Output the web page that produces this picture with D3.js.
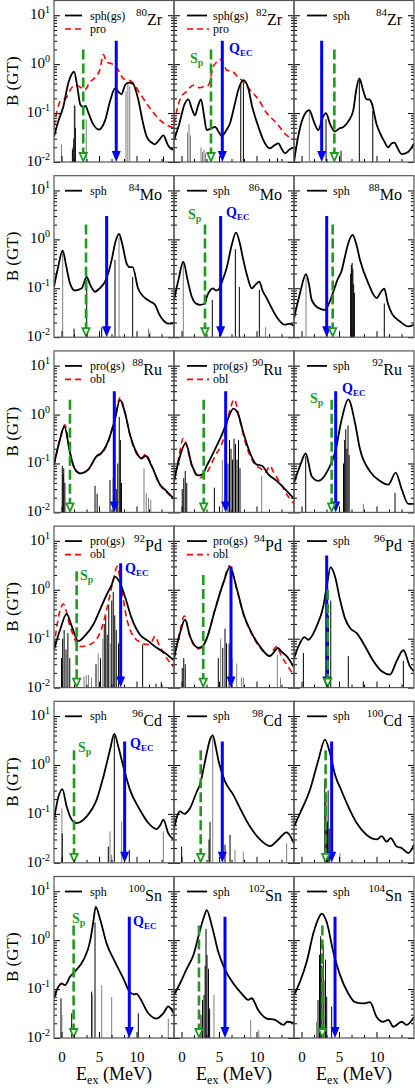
<!DOCTYPE html>
<html><head><meta charset="utf-8">
<script src="https://cdn.jsdelivr.net/npm/d3@7/dist/d3.min.js"></script>
<style>
html,body{margin:0;padding:0;background:#fff;}
svg{display:block;}
text{font-family:"Liberation Serif","Times New Roman",serif;}
</style></head><body>
<script>
// ================= DATA (E in MeV, B in GT) =================
const nucleusMass   = ["80","82","84","84","86","88","88","90","92","92","94","96","96","98","100","100","102","104"];
const nucleusSymbol = ["Zr","Zr","Zr","Mo","Mo","Mo","Ru","Ru","Ru","Pd","Pd","Pd","Cd","Cd","Cd","Sn","Sn","Sn"];
const legendMain = ["sph(gs)","sph(gs)","sph","sph","sph","sph","pro(gs)","pro(gs)","sph","pro(gs)","pro(gs)","sph","sph","sph","sph","sph","sph","sph"];
const legendAlt  = ["pro","pro",null,null,null,null,"obl","obl",null,"obl","obl",null,null,null,null,null,null,null];
const spEnergy   = [2.9,3.93,4.38, 3.27,3.13,4.16, 1.13,2.96,4.02, 2.02,2.9,3.49, 1.67,2.56,3.22, 1.62,2.33,2.78];
const qecEnergy  = [7.3,5.44,2.69, 6.02,5.22,3.36, 7.04,5.89,4.56, 7.89,6.6,3.36, 8.42,5.44,4.02, 9.04,5.8,4.47];
const spTop      = [2,2,2, 2,2,2, 2,2,2, 2.4,2,1, 2,2,2, 2,2,2];
const qecTop     = [3,3,3, 3,3,3, 3,3,3, 3.5,3,5, 3,3,3, 3,3,3];
const yTickValues = [0.01,0.1,1,10];
const yTickExp    = ["-2","-1","0","1"];
const xTickValues = [0,5,10];

const zr80Sph = [[-1,0.033],[-0.4,0.07],[0.24,0.135],[0.91,0.41],[1.67,0.70],[2.1,0.35],[2.5,0.15],[2.9,0.13],[3.2,0.14],[3.6,0.1],[4.2,0.06],[5.0,0.046],[5.8,0.07],[6.5,0.18],[7.13,0.32],[7.6,0.27],[8.0,0.245],[8.5,0.38],[8.9,0.42],[9.5,0.40],[10.2,0.2],[10.8,0.07],[11.36,0.033],[12.0,0.025],[12.47,0.023],[13.0,0.028],[13.58,0.035],[14.2,0.022],[14.9,0.018],[15,0.018]];
const zr80Pro = [[-1,0.053],[-0.2,0.17],[0.69,0.21],[1.36,0.33],[2.0,0.37],[2.6,0.33],[3.13,0.30],[3.8,0.44],[4.24,0.49],[5.13,0.79],[5.58,1.58],[6.02,1.1],[6.69,1.02],[7.36,0.85],[8.24,0.51],[9.36,0.44],[10.47,0.25],[11.8,0.126],[13.13,0.072],[14.47,0.053],[15,0.05]];
const zr80Sticks = [[0.0,0.023,1],[1.45,0.018,0],[1.55,0.02,0],[1.62,0.03,0],[1.7,0.15,1],[1.78,0.14,0],[1.85,0.05,0],[3.3,0.075,1],[8.6,0.28,1],[8.85,0.4,1],[9.1,0.35,1],[13.6,0.013,0]];

const zr82Sph = [[-1,0.028],[-0.3,0.06],[0.4,0.15],[0.91,0.19],[1.4,0.12],[1.8,0.09],[2.2,0.14],[2.6,0.19],[3.0,0.09],[3.36,0.045],[3.9,0.048],[4.47,0.052],[5.0,0.04],[5.36,0.034],[6.0,0.045],[6.47,0.062],[7.0,0.13],[7.58,0.3],[8.24,0.47],[8.91,0.32],[9.4,0.14],[9.8,0.085],[10.4,0.045],[10.91,0.028],[11.8,0.019],[12.4,0.022],[12.91,0.024],[13.4,0.018],[13.8,0.015],[14.4,0.018],[15,0.02]];
const zr82Pro = [[-1,0.06],[-0.2,0.19],[0.69,0.28],[1.58,0.37],[2.47,0.33],[3.0,0.35],[3.58,0.37],[4.24,0.9],[4.7,1.1],[5.13,1.26],[5.6,1.0],[6.02,0.76],[6.91,0.69],[7.5,0.55],[8.02,0.47],[9.13,0.3],[10.24,0.19],[11.36,0.1],[12.69,0.062],[14.02,0.035],[15,0.03]];
const zr82Sticks = [[0.8,0.04,1],[1.0,0.06,1],[1.2,0.035,1],[2.6,0.02,1],[2.8,0.016,1],[3.0,0.018,1],[3.2,0.015,1],[7.9,0.42,0],[8.25,0.44,0],[12.8,0.012,0]];

const zr84Sph = [[-1,0.01],[-0.5,0.03],[0.2,0.08],[1.05,0.115],[1.6,0.07],[2.25,0.045],[2.8,0.08],[3.27,0.1],[3.8,0.06],[4.47,0.042],[5.0,0.048],[5.58,0.052],[6.3,0.07],[6.91,0.115],[7.3,0.3],[7.71,0.51],[8.2,0.3],[8.7,0.19],[9.0,0.19],[9.36,0.16],[10.0,0.06],[10.47,0.039],[11.0,0.027],[11.58,0.02],[12.0,0.024],[12.38,0.025],[12.9,0.018],[13.36,0.0145],[14.2,0.016],[15,0.024]];
const zr84Sticks = [[1.05,0.11,1],[3.27,0.075,0],[5.27,0.017,0],[7.71,0.48,0],[9.5,0.11,0]];

const mo84Sph = [[-1,0.107],[-0.5,0.25],[0.16,0.59],[0.6,0.3],[1.13,0.126],[1.8,0.09],[2.69,0.1],[3.36,0.17],[3.8,0.12],[4.47,0.085],[5.1,0.1],[5.8,0.137],[6.3,0.22],[6.69,0.38],[7.2,0.9],[7.67,1.3],[8.1,0.8],[8.69,0.32],[9.1,0.27],[9.49,0.27],[10.2,0.1],[10.91,0.068],[11.7,0.055],[12.47,0.046],[13.0,0.03],[13.58,0.022],[14.2,0.019],[15,0.0195]];
const mo84Sticks = [[0.16,0.55,1],[1.67,0.015,0],[3.36,0.15,0],[5.36,0.016,0],[7.13,0.38,0],[7.67,1.1,1],[9.49,0.17,0],[11.6,0.015,1],[11.8,0.013,1]];

const mo86Sph = [[-1,0.058],[-0.4,0.15],[0.24,0.35],[0.8,0.15],[1.36,0.068],[2.0,0.048],[2.47,0.046],[3.13,0.049],[3.36,0.066],[3.8,0.09],[4.16,0.1],[4.6,0.09],[4.91,0.093],[5.5,0.15],[6.02,0.26],[6.69,0.76],[7.27,1.37],[7.8,0.8],[8.24,0.38],[8.8,0.17],[9.36,0.1],[9.9,0.12],[10.38,0.137],[10.8,0.09],[11.36,0.063],[12.0,0.04],[12.69,0.026],[13.8,0.018],[14.4,0.019],[15,0.017]];
const mo86Sticks = [[0.24,0.35,1],[4.11,0.058,0],[7.18,0.63,0],[7.71,0.107,0],[10.38,0.093,0],[11.22,0.016,1]];

const mo88Sph = [[-1,0.024],[-0.2,0.079],[0.6,0.195],[1.0,0.12],[1.36,0.058],[2.2,0.04],[3.13,0.036],[3.7,0.05],[4.24,0.085],[4.8,0.15],[5.36,0.23],[5.8,0.45],[6.24,0.83],[6.82,1.23],[7.3,0.8],[7.8,0.38],[8.91,0.126],[10.02,0.063],[10.6,0.085],[11.04,0.098],[11.5,0.05],[12.02,0.031],[13.13,0.021],[14.24,0.0166],[15,0.018]];
const mo88Sticks = [[0.6,0.17,1],[6.55,0.2,0],[6.65,0.3,0],[6.75,0.33,0],[6.85,0.25,0],[6.95,0.12,0],[7.05,0.08,0],[11.04,0.049,0]];

const ru88Pro = [[-1,0.095],[-0.2,0.31],[0.38,0.57],[1.13,0.166],[1.8,0.076],[2.47,0.063],[3.58,0.076],[4.69,0.141],[5.36,0.166],[6.24,0.29],[7.13,0.8],[7.8,2.0],[8.47,1.07],[9.13,0.39],[10.02,0.166],[10.69,0.126],[11.22,0.144],[12.02,0.089],[13.13,0.037],[14.02,0.027],[15,0.019]];
const ru88Obl = [[-1,0.09],[-0.2,0.32],[0.45,0.62],[1.13,0.17],[1.8,0.075],[2.47,0.062],[3.58,0.075],[4.69,0.14],[5.36,0.16],[6.24,0.28],[7.13,0.85],[7.8,2.2],[8.47,1.1],[9.13,0.38],[10.02,0.16],[10.69,0.13],[11.22,0.155],[12.02,0.09],[13.13,0.036],[14.02,0.026],[15,0.018]];
const ru88Sticks = [[0.1,0.09,0],[0.2,0.06,0],[0.3,0.08,0],[0.45,0.04,0],[4.47,0.035,0],[4.75,0.024,0],[6.47,0.046,0],[6.9,0.05,0],[7.3,0.03,0],[7.5,0.1,0],[7.7,0.9,0],[7.85,0.3,0],[8.0,0.04,0],[11.0,0.08,1],[11.3,0.025,1],[11.6,0.02,1],[11.9,0.018,1]];

const ru90Pro = [[-1,0.044],[-0.2,0.141],[0.56,0.26],[1.36,0.095],[2.24,0.057],[2.8,0.06],[3.36,0.089],[4.47,0.195],[5.58,0.46],[6.24,0.85],[6.91,1.32],[7.58,1.0],[8.24,0.43],[9.13,0.166],[10.02,0.095],[10.69,0.091],[11.58,0.06],[12.69,0.044],[13.8,0.03],[15,0.019]];
const ru90Obl = [[-1,0.04],[-0.3,0.15],[0.24,0.33],[0.8,0.2],[1.36,0.09],[2.47,0.051],[3.36,0.065],[4.47,0.141],[5.58,0.31],[6.47,1.26],[7.04,2.04],[7.8,0.72],[8.69,0.22],[9.8,0.095],[10.69,0.076],[11.13,0.065],[11.8,0.089],[12.3,0.065],[13.13,0.041],[14.24,0.021],[15,0.015]];
const ru90Sticks = [[0.1,0.03,0],[0.3,0.05,0],[0.5,0.07,0],[0.7,0.04,0],[4.38,0.032,0],[5.44,0.12,1],[6.2,0.1,0],[6.4,0.3,0],[6.6,0.2,0],[6.8,0.12,0],[7.0,0.32,0],[7.2,0.25,0],[7.4,0.12,0],[7.6,0.3,0],[7.8,0.08,0],[10.69,0.057,1]];

const ru92Sph = [[-1,0.04],[-0.2,0.089],[0.56,0.16],[1.36,0.055],[2.25,0.044],[3.58,0.076],[4.47,0.166],[5.36,0.8],[6.24,2.04],[7.13,0.68],[7.8,0.195],[9.13,0.069],[10.47,0.044],[11.58,0.037],[12.56,0.065],[13.36,0.03],[14.24,0.015],[15,0.015]];
const ru92Sticks = [[0.56,0.14,0],[5.6,0.1,0],[5.75,0.3,0],[5.9,0.5,0],[6.05,0.2,0],[6.2,0.6,0],[6.35,0.15,0],[8.25,0.015,1],[12.47,0.025,0]];

const pd92Pro = [[-1,0.06],[-0.2,0.15],[0.69,0.32],[1.36,0.18],[2.24,0.089],[3.13,0.115],[4.24,0.195],[5.13,0.39],[6.02,0.79],[6.69,1.26],[7.13,1.86],[7.8,1.38],[8.47,0.72],[9.36,0.26],[10.47,0.12],[11.58,0.089],[12.69,0.065],[13.8,0.051],[15,0.036]];
const pd92Obl = [[-1,0.069],[-0.29,0.33],[0.24,0.51],[1.13,0.18],[2.47,0.069],[3.8,0.076],[5.13,0.13],[6.02,0.39],[6.91,1.6],[7.44,3.0],[7.89,1.38],[8.69,0.26],[9.58,0.112],[10.5,0.085],[11.36,0.076],[11.9,0.08],[12.47,0.112],[13.0,0.075],[13.58,0.051],[15,0.026]];
const pd92Sticks = [[0.0,0.04,0],[0.15,0.1,0],[0.35,0.15,0],[0.6,0.06,0],[0.85,0.13,0],[1.1,0.04,0],[3.0,0.017,1],[3.3,0.018,1],[3.6,0.018,1],[4.0,0.016,1],[4.6,0.03,0],[4.9,0.05,1],[5.2,0.04,0],[5.5,0.1,1],[5.7,0.2,0],[5.9,0.3,0],[6.1,0.12,0],[6.3,0.5,0],[6.5,0.08,1],[6.7,0.6,0],[6.9,0.9,0],[7.1,0.3,0],[7.3,0.15,0],[7.6,0.08,0],[10.82,0.076,0],[12.6,0.012,0],[13.3,0.013,0]];

const pd94Pro = [[-1,0.04],[-0.2,0.13],[0.47,0.245],[1.13,0.112],[2.24,0.065],[2.8,0.07],[3.36,0.1],[4.47,0.39],[5.58,1.38],[6.47,2.9],[7.36,1.07],[8.24,0.33],[9.36,0.13],[10.47,0.069],[11.8,0.044],[12.4,0.055],[12.82,0.065],[13.3,0.055],[14.02,0.044],[15,0.026]];
const pd94Obl = [[-1,0.038],[-0.2,0.14],[0.38,0.29],[1.13,0.11],[2.24,0.062],[2.8,0.068],[3.36,0.1],[4.47,0.4],[5.58,1.4],[6.4,3.1],[7.36,1.05],[8.24,0.32],[9.36,0.125],[10.47,0.066],[11.8,0.044],[12.3,0.06],[12.69,0.07],[13.3,0.045],[14.0,0.03],[15,0.018]];
const pd94Sticks = [[0.1,0.025,0],[0.3,0.04,0],[0.5,0.03,0],[4.91,0.04,0],[5.22,0.1,1],[5.5,0.065,0],[5.8,0.16,0],[6.0,0.08,0],[6.35,0.08,0],[6.7,0.04,0],[7.36,0.031,1],[8.0,0.016,1],[8.25,0.016,1],[12.78,0.047,1],[13.2,0.016,1]];

const pd96Sph = [[-1,0.04],[-0.2,0.081],[0.38,0.108],[0.91,0.095],[2.02,0.18],[2.91,0.46],[3.36,1.17],[3.89,2.9],[4.47,1.86],[5.13,0.63],[5.8,0.26],[6.47,0.165],[7.36,0.13],[8.24,0.081],[9.58,0.035],[10.69,0.0215],[11.8,0.0185],[12.69,0.035],[13.58,0.058],[14.47,0.027],[15,0.0215]];
const pd96Sticks = [[0.25,0.051,0],[3.6,0.3,0],[3.9,0.6,0],[6.24,0.044,0],[8.24,0.0135,0],[13.58,0.035,0]];

const cd96Sph = [[-1,0.076],[-0.42,0.22],[0.11,0.32],[0.69,0.141],[1.36,0.076],[2.02,0.065],[3.36,0.089],[4.69,0.195],[5.58,0.57],[6.47,2.04],[7.04,4.3],[7.58,2.35],[8.24,0.93],[9.13,0.31],[10.47,0.12],[11.58,0.065],[12.69,0.049],[13.2,0.06],[13.58,0.076],[14.24,0.04],[15,0.03]];
const cd96Sticks = [[0.05,0.13,1],[0.1,0.04,0],[6.24,0.0215,0],[6.47,0.044,1],[6.69,0.0146,1],[7.04,4.0,0],[8.02,0.069,1],[9.04,0.0185,0],[13.58,0.044,1]];

const cd98Sph = [[-1,0.051],[-0.2,0.112],[0.38,0.1],[1.13,0.13],[2.02,0.28],[2.47,0.4],[2.91,0.8],[3.36,1.73],[3.8,3.3],[4.16,4.0],[4.6,2.2],[4.91,1.26],[5.8,0.46],[6.91,0.245],[8.02,0.112],[9.13,0.055],[10.47,0.03],[11.8,0.022],[12.91,0.03],[14.02,0.042],[15,0.025]];
const cd98Sticks = [[0.02,0.0215,0],[3.67,0.03,0],[3.8,0.069,0],[4.16,3.5,1],[5.8,0.0235,0],[6.47,0.037,0],[7.13,0.0185,1],[8.24,0.017,1],[14.02,0.025,1]];

const cd100Sph = [[-1,0.055],[-0.2,0.103],[1.13,0.31],[2.25,1.26],[3.13,3.3],[3.8,1.73],[4.47,0.63],[5.36,0.29],[6.24,0.141],[7.36,0.065],[8.69,0.037],[10.02,0.03],[10.69,0.035],[11.36,0.027],[11.89,0.032],[12.69,0.0215],[13.36,0.02],[14.24,0.0158],[15,0.0235]];
const cd100Sticks = [[3.1,0.5,0],[3.25,0.2,0],[3.35,0.068,0],[3.45,0.069,0],[3.55,0.3,0],[3.7,0.05,0],[5.13,0.0158,1]];

const sn100Sph = [[-1,0.065],[-0.42,0.112],[0.02,0.13],[0.47,0.12],[1.13,0.178],[1.8,0.23],[2.91,0.39],[3.8,0.93],[4.24,2.35],[4.56,4.8],[5.13,2.75],[6.02,0.85],[7.13,0.36],[8.24,0.166],[9.04,0.09],[9.6,0.078],[10.02,0.08],[10.47,0.065],[11.58,0.032],[12.69,0.025],[13.58,0.032],[14.24,0.044],[15,0.031]];
const sn100Sticks = [[-0.07,0.065,0],[0.05,0.03,1],[1.36,0.032,0],[4.02,0.089,0],[4.15,0.076,1],[4.47,2.3,0],[5.36,0.12,1],[6.69,0.069,1],[8.91,0.0158,0],[10.24,0.032,0],[14.24,0.025,1]];

const sn102Sph = [[-1,0.076],[-0.2,0.13],[0.69,0.26],[1.58,0.49],[2.47,1.6],[3.0,3.0],[3.36,4.1],[4.02,2.05],[4.91,0.57],[5.8,0.25],[6.91,0.13],[8.02,0.081],[8.91,0.06],[9.36,0.065],[10.24,0.037],[11.36,0.025],[12.47,0.0235],[13.58,0.0185],[14.1,0.0215],[15,0.02]];
const sn102Sticks = [[2.6,0.03,0],[2.8,0.06,0],[3.0,0.076,0],[3.15,0.3,0],[3.27,1.7,0],[3.4,0.5,0],[3.6,0.26,0],[3.75,0.04,0],[4.33,0.076,1],[9.22,0.0235,1],[10.3,0.0146,1]];

const sn104Sph = [[-1,0.076],[-0.2,0.141],[0.69,0.36],[1.58,1.38],[2.25,2.75],[2.69,3.5],[3.36,2.35],[4.24,0.57],[5.13,0.195],[6.24,0.081],[7.13,0.054],[8.24,0.051],[9.13,0.054],[10.02,0.027],[10.91,0.0215],[11.58,0.0235],[12.24,0.017],[13.36,0.0215],[14.02,0.0185],[15,0.027]];
const sn104Sticks = [[2.0,0.0215,1],[2.2,0.06,0],[2.4,0.5,0],[2.55,1.2,0],[2.7,0.3,0],[2.9,0.8,0],[3.05,0.15,1],[3.2,0.4,0],[3.36,0.07,0],[4.02,0.044,0]];

const mainCurves = [zr80Sph,zr82Sph,zr84Sph,mo84Sph,mo86Sph,mo88Sph,ru88Pro,ru90Pro,ru92Sph,pd92Pro,pd94Pro,pd96Sph,cd96Sph,cd98Sph,cd100Sph,sn100Sph,sn102Sph,sn104Sph];
const altCurves  = [zr80Pro,zr82Pro,null,null,null,null,ru88Obl,ru90Obl,null,pd92Obl,pd94Obl,null,null,null,null,null,null,null];
const stickSets  = [zr80Sticks,zr82Sticks,zr84Sticks,mo84Sticks,mo86Sticks,mo88Sticks,ru88Sticks,ru90Sticks,ru92Sticks,pd92Sticks,pd94Sticks,pd96Sticks,cd96Sticks,cd98Sticks,cd100Sticks,sn100Sticks,sn102Sticks,sn104Sticks];

// ================= LAYOUT / STYLE =================
const W=415, H=1088;
const colLeft=[54,174,294];
const pw=120, ph=161.5;
const rowTop=r=>0.5+175.2*r;
const COL={black:"#000",gray:"#7f7f7f",red:"#ff0000",green:"#1f9a1f",blue:"#0000ff",frame:"#555"};
const FONT="'Liberation Serif','Times New Roman',serif";
// S_p / Q_EC label placement (panel-relative px): [x, baseline]
const spLabelPos  = {1:[16,62],4:[14,43],8:[16,52],9:[26,54],12:[24,51],15:[18,46]};
const qecLabelPos = {1:[55,52],4:[52,41],8:[48,42],9:[71,47],12:[76,47],15:[79,49]};

const svg=d3.select("body").append("svg").attr("width",W).attr("height",H).attr("font-family",FONT);
const x=d3.scaleLinear().domain([-1,15]).range([0,pw]);
const y=d3.scaleLog().domain([0.01,20]).range([ph,0]);
const line=d3.line().x(d=>x(d[0])).y(d=>y(d[1])).curve(d3.curveMonotoneX);

const xMinor=[5/3,10/3,20/3,25/3,35/3,40/3];
const yMinor=[];
[-2,-1,0,1].forEach(k=>{for(let m=2;m<=9;m++){const v=m*Math.pow(10,k); if(v<20) yMinor.push(v);}});

function clean(sel){sel.select(".domain").remove(); sel.selectAll(".tick line").attr("stroke","#000").attr("stroke-width",1);}

mainCurves.forEach((main,i)=>{
  const r=Math.floor(i/3), c=i%3;
  const g=svg.append("g").attr("transform",`translate(${colLeft[c]},${rowTop(r)})`);
  g.append("clipPath").attr("id","cp"+i).append("rect").attr("width",pw).attr("height",ph);
  const pg=g.append("g").attr("clip-path",`url(#cp${i})`);

  pg.selectAll("line.st").data(stickSets[i]).join("line").attr("class","st")
    .attr("x1",d=>x(d[0])).attr("x2",d=>x(d[0]))
    .attr("y1",y(0.01)).attr("y2",d=>y(d[1]))
    .attr("stroke",d=>d[2]?COL.gray:COL.black).attr("stroke-width",1);

  if(altCurves[i]) pg.append("path").attr("d",line(altCurves[i])).attr("fill","none")
     .attr("stroke",COL.red).attr("stroke-width",1.6).attr("stroke-dasharray","6,4");
  pg.append("path").attr("d",line(main)).attr("fill","none")
     .attr("stroke",COL.black).attr("stroke-width",1.8);

  const yb=y(0.01);
  const xq=x(qecEnergy[i]);
  pg.append("line").attr("x1",xq).attr("x2",xq).attr("y1",y(qecTop[i])).attr("y2",yb-10)
    .attr("stroke",COL.blue).attr("stroke-width",3);
  pg.append("path").attr("d",`M${xq-4.5},${yb-11}L${xq+4.5},${yb-11}L${xq},${yb}Z`).attr("fill",COL.blue);

  const xs=x(spEnergy[i]);
  pg.append("line").attr("x1",xs).attr("x2",xs).attr("y1",y(spTop[i])).attr("y2",yb-9)
    .attr("stroke",COL.green).attr("stroke-width",2.6).attr("stroke-dasharray","10,4");
  pg.append("path").attr("d",`M${xs-3.6},${yb-9}L${xs+3.6},${yb-9}L${xs},${yb-1}Z`)
    .attr("fill","#fff").attr("stroke",COL.green).attr("stroke-width",1.8);

  const bx=g.append("g").attr("transform",`translate(0,${ph})`)
    .call(d3.axisBottom(x).tickValues(xTickValues).tickSize(-6).tickPadding(13).tickFormat(r===5?d3.format("d"):()=>""));
  clean(bx);
  bx.attr("font-family",FONT);
  bx.selectAll("text").attr("font-family",FONT).attr("font-size",15).attr("fill","#000");
  clean(g.append("g").attr("transform",`translate(0,${ph})`).call(d3.axisBottom(x).tickValues(xMinor).tickSize(-3).tickFormat(()=>"")));
  clean(g.append("g").call(d3.axisLeft(y).tickValues(yTickValues).tickSize(-6).tickFormat(()=>"")));
  clean(g.append("g").call(d3.axisLeft(y).tickValues(yMinor).tickSize(-3).tickFormat(()=>"")));
  clean(g.append("g").attr("transform",`translate(${pw},0)`).call(d3.axisRight(y).tickValues(yTickValues).tickSize(-6).tickFormat(()=>"")));
  clean(g.append("g").attr("transform",`translate(${pw},0)`).call(d3.axisRight(y).tickValues(yMinor).tickSize(-3).tickFormat(()=>"")));

  g.append("rect").attr("width",pw).attr("height",ph).attr("fill","none").attr("stroke",COL.frame).attr("stroke-width",1.2);

  if(c===0){
    const ya=g.append("g").call(d3.axisLeft(y).tickValues(yTickValues).tickSize(0).tickPadding(4).tickFormat(()=>""));
    ya.select(".domain").remove();
    ya.attr("font-family",FONT);
    ya.selectAll(".tick text").each(function(d,j){
      const t=d3.select(this).attr("font-family",FONT).attr("fill","#000").attr("dy","0.35em");
      t.append("tspan").attr("font-size",15).text("10");
      t.append("tspan").attr("font-size",10).attr("dy",-6).text(yTickExp[j]);
    });
    svg.append("text").attr("transform",`translate(18,${rowTop(r)+ph/2}) rotate(-90)`)
      .attr("text-anchor","middle").attr("font-size",17).text("B (GT)");
  }

  const lx0=c===0?11:13, lx1=c===0?28:33, tx=c===0?36:39;
  g.append("line").attr("x1",lx0).attr("x2",lx1).attr("y1",15).attr("y2",15).attr("stroke","#000").attr("stroke-width",1.8);
  g.append("text").attr("x",tx).attr("y",19).attr("font-size",12).text(legendMain[i]);
  if(legendAlt[i]){
    g.append("line").attr("x1",lx0).attr("x2",lx1+2).attr("y1",28.5).attr("y2",28.5).attr("stroke",COL.red).attr("stroke-width",1.6).attr("stroke-dasharray","6,4");
    g.append("text").attr("x",tx).attr("y",32).attr("font-size",12).text(legendAlt[i]);
  }
  const nl=g.append("text").attr("x",pw-12).attr("y",24.5).attr("text-anchor","end");
  nl.append("tspan").attr("font-size",11).attr("dy",-9).text(nucleusMass[i]);
  nl.append("tspan").attr("font-size",16).attr("dy",9).text(nucleusSymbol[i]);

  if(spLabelPos[i]){
    const t=g.append("text").attr("x",spLabelPos[i][0]).attr("y",spLabelPos[i][1]).attr("fill",COL.green).attr("font-weight","bold");
    t.append("tspan").attr("font-size",14).text("S");
    t.append("tspan").attr("font-size",10).attr("dy",3).text("p");
  }
  if(qecLabelPos[i]){
    const t=g.append("text").attr("x",qecLabelPos[i][0]).attr("y",qecLabelPos[i][1]).attr("fill",COL.blue).attr("font-weight","bold");
    t.append("tspan").attr("font-size",14).text("Q");
    t.append("tspan").attr("font-size",9).attr("dy",3).text("EC");
  }

  if(r===5){
    const t=svg.append("text").attr("x",colLeft[c]+pw/2).attr("y",1080).attr("text-anchor","middle").attr("font-size",18);
    t.append("tspan").text("E");
    t.append("tspan").attr("font-size",12).attr("dy",4).text("ex");
    t.append("tspan").attr("dy",-4).text(" (MeV)");
  }
});
</script></body></html>
